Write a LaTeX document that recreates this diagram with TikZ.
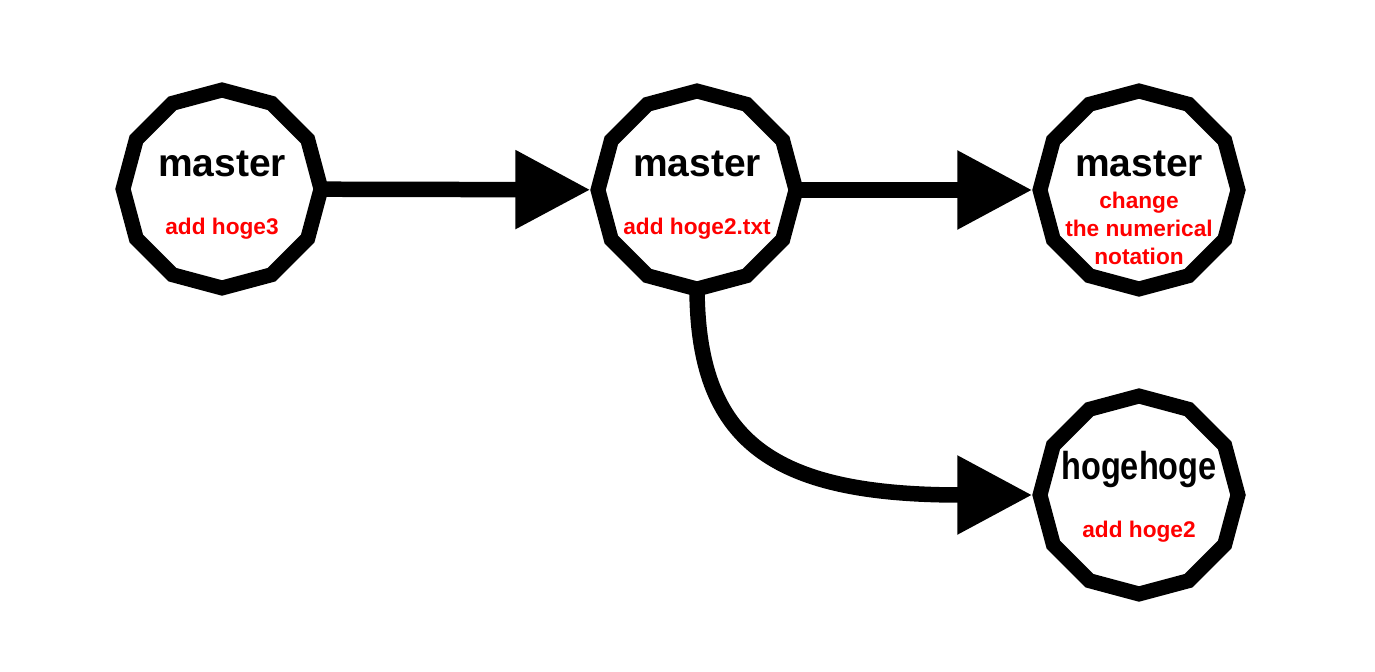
\documentclass[tikz,border=0pt]{standalone}
\usepackage{fontspec}
\setmainfont{Liberation Sans}
\usetikzlibrary{shapes.geometric,arrows.meta}

\begin{document}
\begin{tikzpicture}[x=0.02cm,y=-0.02cm,
        commit/.style={regular polygon,regular polygon sides=12,shape border rotate=15,draw,line width=0.3cm,minimum size=3.96cm},
        branch/.style={font=\fontsize{22.2}{26}\selectfont\bfseries,anchor=base},
        msg/.style={font=\fontsize{12.9}{15.9}\selectfont\bfseries,text=red,align=center}]
        \useasboundingbox (0,0) rectangle (1375,672);

        \node[commit] at (222,189) (a) {};
        \node[commit] at (697,190) (b) {};
        \node[commit] at (1139,190) (c) {};
        \node[commit] at (1139,495) (d) {};

        \node[branch] at (222,177) (an) {master};
        \node[branch] at (697,177) (bn) {master};
        \node[branch] at (1139,177) (cn) {master};
        \node[branch] at (1139,479) (dn) {\scalebox{0.833}[1]{hogehoge}};

        \node[msg] at (222,229) (am) {add hoge3};
        \node[msg] at (697,229) (bm) {add hoge2.txt};
        \node[msg] at (1139,228) (cm) {change\\the numerical\\notation};
        \node[msg] at (1139,532) (dm) {add hoge2};

        \path[line width=0.31cm,shorten <=-0.2cm,-{Triangle[length=1.5cm,width=1.5cm]}]
            (a) edge (b)
            (b) edge (c)
            (b.south) edge[out=-90,in=180,out distance=2.9cm,in distance=5.2cm] (d.west)
            ;
\end{tikzpicture}
\end{document}
